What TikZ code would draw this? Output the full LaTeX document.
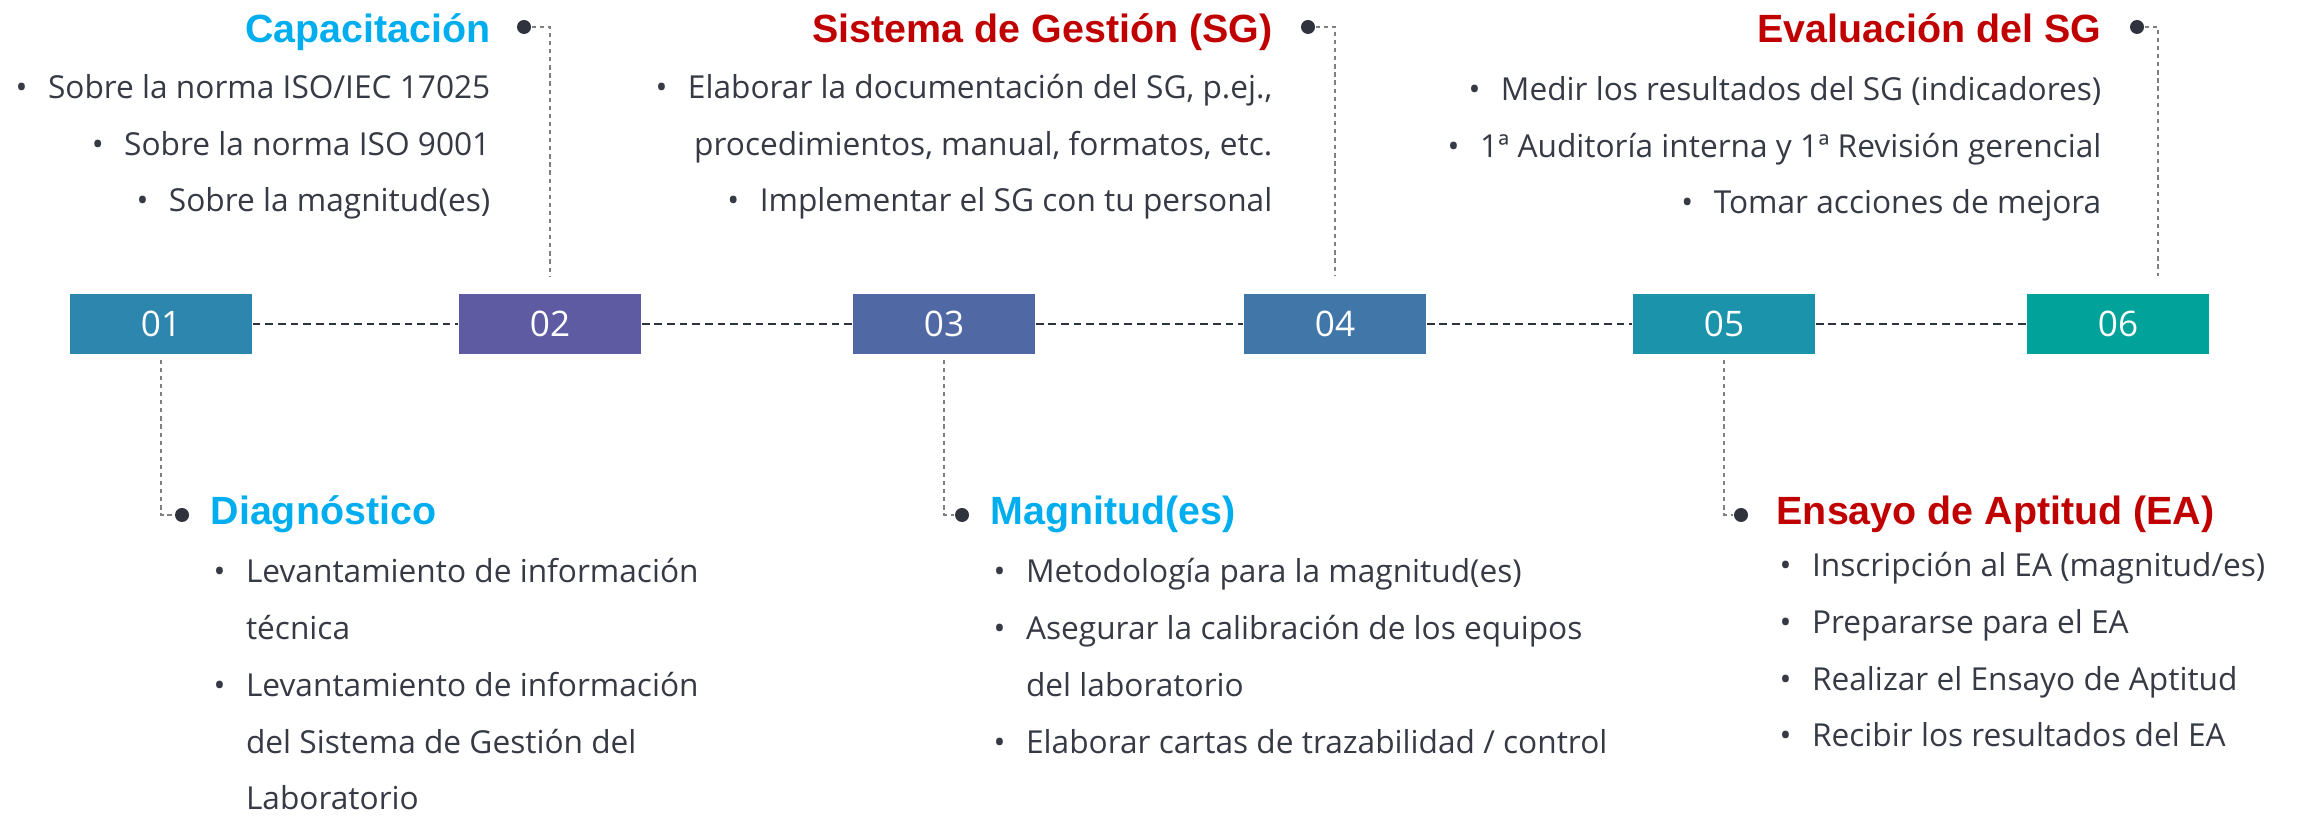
\documentclass[tikz,border=0pt]{standalone}
\usepackage{fontspec}
\setmainfont{Open Sans}
\newfontfamily\headfont{Liberation Sans}
\usetikzlibrary{positioning}
\definecolor{stepone}{RGB}{45,134,174}
\definecolor{steptwo}{RGB}{95,91,162}
\definecolor{stepthree}{RGB}{80,104,164}
\definecolor{stepfour}{RGB}{65,118,169}
\definecolor{stepfive}{RGB}{26,147,171}
\definecolor{stepsix}{RGB}{0,162,153}
\definecolor{tlcyan}{RGB}{0,174,239}
\definecolor{tlred}{RGB}{192,0,0}
\definecolor{tltext}{RGB}{54,58,68}
\definecolor{tldot}{RGB}{47,51,62}
\newcommand{\tlbul}{\makebox[9.2pt][l]{\textbullet}}
\newcommand{\tlind}{\hspace*{9.2pt}}

\begin{document}
\begin{tikzpicture}[x=0.01cm, y=-0.01cm,
    numbox/.style={minimum width=1.82cm, minimum height=0.6cm, inner sep=0pt,
                   text=white, font=\fontsize{10}{12}\selectfont},
    head/.style={inner sep=0pt, font=\headfont\bfseries\fontsize{11.2}{14}\selectfont},
    items/.style={inner sep=0pt, text=tltext, font=\fontsize{9}{16.2}\selectfont},
    pin/.style={circle, fill=tldot, inner sep=0pt, minimum size=0.14cm},
    link/.style={tldot, line width=0.6pt, dash pattern=on 2.2pt off 1.4pt},
    lead/.style={gray, line width=0.35pt, dash pattern=on 1.2pt off 1.1pt}]
    \useasboundingbox (0,0) rectangle (2300,819);

    % Steps
    \node[numbox, fill=stepone]   (b1) at (161,324)  {01};
    \node[numbox, fill=steptwo]   (b2) at (550,324)  {02};
    \node[numbox, fill=stepthree] (b3) at (944,324)  {03};
    \node[numbox, fill=stepfour]  (b4) at (1335,324) {04};
    \node[numbox, fill=stepfive]  (b5) at (1724,324) {05};
    \node[numbox, fill=stepsix]   (b6) at (2118,324) {06};

    % Timeline
    \draw[link] (b1) -- (b2);
    \draw[link] (b2) -- (b3);
    \draw[link] (b3) -- (b4);
    \draw[link] (b4) -- (b5);
    \draw[link] (b5) -- (b6);

    % Top: 02, 04, 06 (lists anchored on their last line)
    \node[head, tlcyan, anchor=base east] (t2) at (491,43) {Capacitación};
    \node[items, anchor=base east, align=right] (l2) at (491,212)
        {\tlbul Sobre la norma ISO/IEC 17025\\
         \tlbul Sobre la norma ISO 9001\\
         \tlbul Sobre la magnitud(es)};
    \node[pin] (d2) at (524,27) {};
    \draw[lead] (d2) -| ([yshift=0.17cm]b2.north);

    \node[head, tlred, anchor=base east] (t4) at (1273,43) {Sistema de Gestión (SG)};
    \node[items, anchor=base east, align=right] (l4) at (1273,212)
        {\tlbul Elaborar la documentación del SG, p.ej.,\\
         procedimientos, manual, formatos, etc.\\
         \tlbul Implementar el SG con tu personal};
    \node[pin] (d4) at (1308,27) {};
    \draw[lead] (d4) -| ([yshift=0.17cm]b4.north);

    \node[head, tlred, anchor=base east] (t6) at (2102,43) {Evaluación del SG};
    \node[items, anchor=base east, align=right] (l6) at (2102,214)
        {\tlbul Medir los resultados del SG (indicadores)\\
         \tlbul 1ª Auditoría interna y 1ª Revisión gerencial\\
         \tlbul Tomar acciones de mejora};
    \node[pin] (d6) at (2137,27) {};
    \draw[lead] (d6) -| ([xshift=0.4cm, yshift=0.17cm]b6.north);

    % Bottom: 01, 03, 05
    \node[pin] (d1) at (182,515) {};
    \draw[lead] ([yshift=-0.05cm]b1.south) |- (d1);
    \node[head, tlcyan, anchor=base west] (t1) at (210,525) {Diagnóstico};
    \node[items, anchor=base west, align=left] (l1) at (213,810)
        {\tlbul Levantamiento de información\\
         \tlind técnica\\
         \tlbul Levantamiento de información\\
         \tlind del Sistema de Gestión del\\
         \tlind Laboratorio};

    \node[pin] (d3) at (962,515) {};
    \draw[lead] ([yshift=-0.05cm]b3.south) |- (d3);
    \node[head, tlcyan, anchor=base west] (t3) at (990,525) {Magnitud(es)};
    \node[items, anchor=base west, align=left] (l3) at (993,753)
        {\tlbul Metodología para la magnitud(es)\\
         \tlbul Asegurar la calibración de los equipos\\
         \tlind del laboratorio\\
         \tlbul Elaborar cartas de trazabilidad / control};

    \node[pin] (d5) at (1741,515) {};
    \draw[lead] ([yshift=-0.05cm]b5.south) |- (d5);
    \node[head, tlred, anchor=base west] (t5) at (1776,525) {Ensayo de Aptitud (EA)};
    \node[items, anchor=base west, align=left] (l5) at (1779,747)
        {\tlbul Inscripción al EA (magnitud/es)\\
         \tlbul Prepararse para el EA\\
         \tlbul Realizar el Ensayo de Aptitud\\
         \tlbul Recibir los resultados del EA};
\end{tikzpicture}
\end{document}
